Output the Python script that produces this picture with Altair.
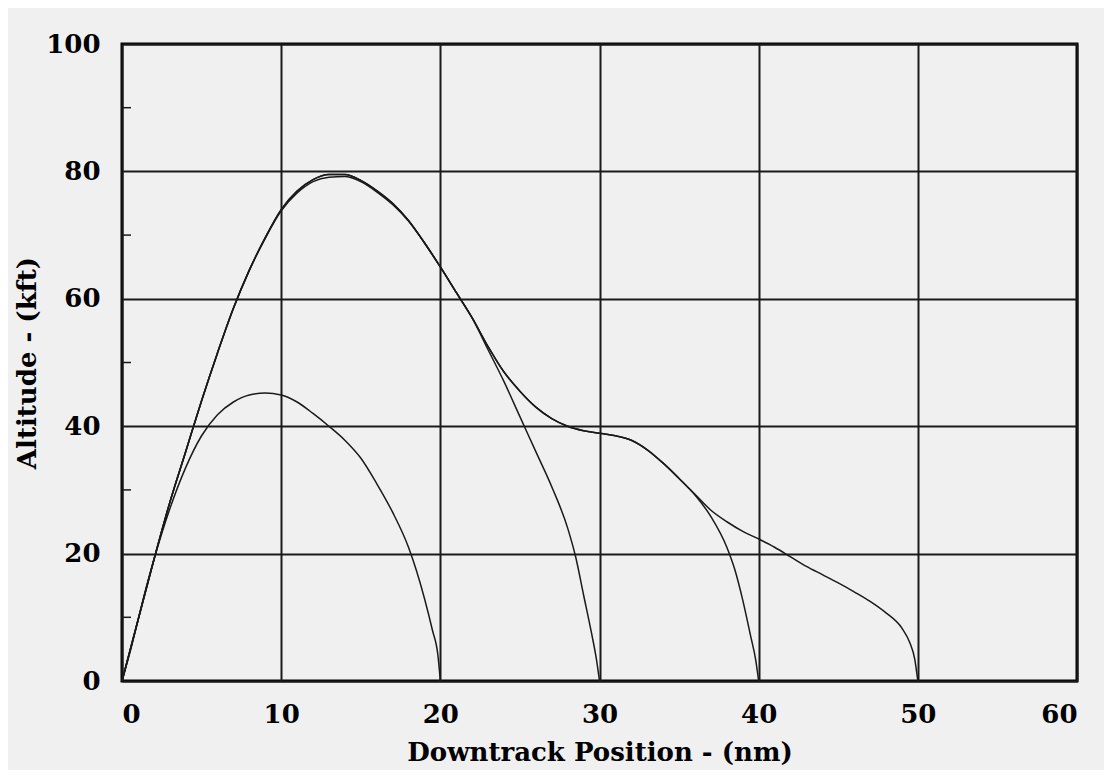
import altair as alt
import pandas as pd

# Trajectory landing at 20 nm
a_x = [0, 0.5, 1, 1.5, 2, 3, 4, 5, 6, 7, 8, 9, 10, 11, 12, 13, 14, 15, 16, 17, 18, 19, 19.5, 19.85, 20]
a_y = [0, 4.5, 9.5, 14.5, 19, 27, 33.5, 38.5, 41.8, 43.8, 44.9, 45.2, 44.9, 43.8, 42, 40, 37.8, 35, 31, 26.5, 21, 13, 8, 4, 0]

# Trajectory landing at 30 nm
b_x = [0, 1, 2, 3, 4, 5, 6, 7, 8, 9, 10, 11, 12, 13, 14, 15, 16, 17, 18, 19, 20, 21, 22, 23,
       24, 25, 26, 27, 28, 28.5, 29, 29.5, 29.8, 30]
b_y = [0, 9.5, 19, 28, 36, 44, 51.5, 58.5, 64.5, 69.5, 73.8, 76.6, 78.4, 79.1, 79.2, 78.4, 76.8, 74.8, 72.2, 68.8, 65, 61, 57, 52,
       47, 41.5, 36, 30.5, 24, 19.5, 13.5, 7.5, 3.5, 0]

# Trajectory landing at 40 nm
c_x = [0, 1, 2, 3, 4, 5, 6, 7, 8, 9, 10, 11, 12, 13, 14, 15, 16, 17, 18, 19, 20, 21, 22, 23,
       24, 25, 26, 27, 28, 29, 30, 31, 32, 33, 34, 35, 36, 37, 38, 38.5, 39, 39.5, 39.8, 40]
c_y = [0, 9.5, 19, 28, 36, 44, 51.5, 58.5, 64.5, 69.6, 74, 76.9, 78.7, 79.5, 79.5, 78.6, 77, 75, 72.3, 68.8, 65, 61, 57, 52.5,
       48.5, 45.5, 43, 41.2, 40, 39.3, 38.9, 38.5, 37.8, 36.3, 34.2, 31.8, 29.2, 25.8, 21, 17.5, 12.7, 7, 3.5, 0]

# Trajectory landing at 50 nm
d_x = [0, 1, 2, 3, 4, 5, 6, 7, 8, 9, 10, 11, 12, 13, 14, 15, 16, 17, 18, 19, 20, 21, 22, 23,
       24, 25, 26, 27, 28, 29, 30, 31, 32, 33, 34, 35, 36, 37, 38, 39, 40, 41, 42, 43, 44, 45,
       46, 47, 48, 49, 49.5, 49.8, 50]
d_y = [0, 9.5, 19, 28, 36, 44, 51.5, 58.5, 64.5, 69.6, 74, 76.9, 78.7, 79.5, 79.5, 78.6, 77, 75, 72.3, 68.8, 65, 61, 57, 52.5,
       48.5, 45.5, 43, 41.2, 40, 39.3, 38.9, 38.5, 37.8, 36.3, 34.2, 31.8, 29.3, 26.8, 25, 23.5, 22.3, 21, 19.5, 18, 16.7, 15.4,
       14, 12.5, 10.7, 8.3, 6, 3.5, 0]

x_ticks = [0, 10, 20, 30, 40, 50, 60]
y_ticks = [0, 20, 40, 60, 80, 100]
y_minor = [10, 30, 50, 70, 90]

rows = []
for name, xs, ys in [("20", a_x, a_y), ("30", b_x, b_y), ("40", c_x, c_y), ("50", d_x, d_y)]:
    for i, (x, y) in enumerate(zip(xs, ys)):
        rows.append({"traj": name, "order": i, "x": x, "y": y})
df = pd.DataFrame(rows)

FONT = "DejaVu Serif"
FS = 26

xscale = alt.Scale(domain=[0, 60], nice=False)
yscale = alt.Scale(domain=[0, 100], nice=False)

lines = alt.Chart(df).mark_line(color="#1a1a1a", strokeWidth=1.5, interpolate="monotone").encode(
    x=alt.X("x:Q", scale=xscale,
            axis=alt.Axis(values=x_ticks, title="Downtrack Position - (nm)", format="d",
                          grid=True, gridColor="#1a1a1a", gridWidth=2, gridOpacity=1,
                          domain=False, ticks=False, labelPadding=20, titlePadding=12,
                          labelFont=FONT, labelFontSize=FS, labelFontWeight="bold", labelColor="#000",
                          titleFont=FONT, titleFontSize=FS, titleFontWeight="bold", titleColor="#000")),
    y=alt.Y("y:Q", scale=yscale,
            axis=alt.Axis(values=y_ticks, title="Altitude - (kft)", format="d",
                          grid=True, gridColor="#1a1a1a", gridWidth=2, gridOpacity=1,
                          domain=False, ticks=False, labelPadding=22, titlePadding=5,
                          labelFont=FONT, labelFontSize=FS, labelFontWeight="bold", labelColor="#000",
                          titleFont=FONT, titleFontSize=FS, titleFontWeight="bold", titleColor="#000")),
    detail="traj:N",
    order="order:Q",
)

minor = alt.Chart(pd.DataFrame({"v": y_minor})).mark_rule(color="#1a1a1a", strokeWidth=1.5).encode(
    y=alt.Y("v:Q", scale=yscale),
    x=alt.value(0),
    x2=alt.value(9),
)

chart = alt.layer(minor, lines).properties(
    width=955,
    height=637,
    background="#f0f0f0",
    autosize=alt.AutoSizeParams(type="none"),
    padding={"left": 114, "top": 36, "right": 27, "bottom": 89},
).configure_view(stroke="#000", strokeWidth=3)

chart.save("out.html", embed_options={"renderer": "svg", "actions": False})
